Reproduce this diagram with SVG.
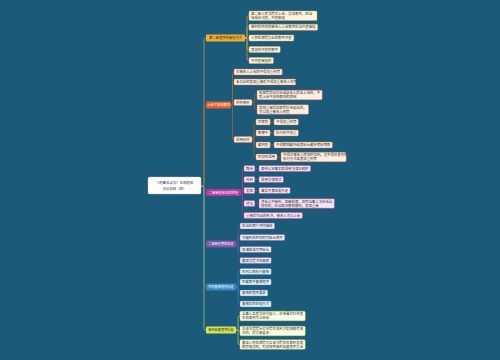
<svg xmlns="http://www.w3.org/2000/svg" width="500" height="360" viewBox="0 0 500 360">
<style>
text{font-family:"Noto Sans CJK SC","Noto Sans",sans-serif}
.t{font-size:3.4px;fill:#333}
.bt{font-size:3.3px;text-anchor:middle}
.w{fill:#fff}
.dk{fill:#3a2a10}
.c{fill:none;stroke-width:.6}
.k1{stroke:#e9b13e}.k2{stroke:#c8642c}.k3{stroke:#b5399b}.k4{stroke:#7a55a8}.k5{stroke:#3a86c8}.k6{stroke:#cfe25e}
.n1{fill:#fdf3df;stroke:#e9b13e;stroke-width:.4}
.n2{fill:#fdeee3;stroke:#e2642c;stroke-width:.4}
.n3{fill:#f9e3f3;stroke:#b5399b;stroke-width:.4}
.n4{fill:#eee8f7;stroke:#7a55a8;stroke-width:.4}
.n5{fill:#e5f1fb;stroke:#3a86c8;stroke-width:.4}
.n6{fill:#fdfbe3;stroke:#c8dc4e;stroke-width:.4}
</style>
<rect width="500" height="360" fill="#1c5a7a"/>
<g id="connectors">
<g class="c">
<path class="k1" d="M201,186H202.5Q204,186 204,184.5V39.5Q204,38 205.5,38H206"/>
<path class="k2" d="M201,186H202.5Q204,186 204,184.5V106.5Q204,105 205.5,105H206"/>
<path class="k3" d="M201,186H202.5Q204,186 204,187.5V191Q204,192.5 205.5,192.5H206"/>
<path class="k4" d="M201,186H202.5Q204,186 204,187.5V242.5Q204,244 205.5,244H206"/>
<path class="k5" d="M201,186H202.5Q204,186 204,187.5V285.5Q204,287 205.5,287H206"/>
<path class="k6" d="M201,186H202.5Q204,186 204,187.5V328.5Q204,330 205.5,330H206"/>
<path class="k1" d="M245,38H245.5Q247,38 247,36.5V17.25Q247,15.75 248.5,15.75H249"/>
<path class="k1" d="M245,38H245.5Q247,38 247,36.5V28.75Q247,27.25 248.5,27.25H249"/>
<path class="k1" d="M245,38H249"/>
<path class="k1" d="M245,38H245.5Q247,38 247,39.5V48Q247,49.5 248.5,49.5H249"/>
<path class="k1" d="M245,38H245.5Q247,38 247,39.5V59Q247,60.5 248.5,60.5H249"/>
<path class="k2" d="M231,105Q232.5,105 232.5,103.5V73.5Q232.5,72 234,72"/>
<path class="k2" d="M231,105Q232.5,105 232.5,103.5V83.5Q232.5,82 234,82"/>
<path class="k2" d="M231,105H231.5Q232.5,105 232.5,104V103.5Q232.5,102.5 233.5,102.5H234"/>
<path class="k2" d="M231,105Q232.5,105 232.5,106.5V138Q232.5,139.5 234,139.5"/>
<path class="k2" d="M252,102.5H253Q254.5,102.5 254.5,101V96.5Q254.5,95 256,95H257"/>
<path class="k2" d="M252,102.5H253Q254.5,102.5 254.5,104V108Q254.5,109.5 256,109.5H257"/>
<path class="k2" d="M252,139.5H252.5Q254,139.5 254,138V123.5Q254,122 255.5,122H256"/>
<path class="k2" d="M252,139.5H252.5Q254,139.5 254,138V134.5Q254,133 255.5,133H256"/>
<path class="k2" d="M252,139.5H252.5Q254,139.5 254,141V143.5Q254,145 255.5,145H256"/>
<path class="k2" d="M252,139.5H252.5Q254,139.5 254,141V155.5Q254,157 255.5,157H256"/>
<path class="k2" d="M270.2,122H274M270.2,133H274M270.2,145H274M277,157H281"/>
<path class="k3" d="M241,192.5Q242.5,192.5 242.5,191V170Q242.5,168.5 244,168.5"/>
<path class="k3" d="M241,192.5Q242.5,192.5 242.5,191V181Q242.5,179.5 244,179.5"/>
<path class="k3" d="M241,192.5Q242.5,192.5 242.5,191.5Q242.5,190.5 244,190.5"/>
<path class="k3" d="M241,192.5Q242.5,192.5 242.5,194V202Q242.5,203.5 244,203.5"/>
<path class="k3" d="M241,192.5Q242.5,192.5 242.5,194V214Q242.5,215.5 244,215.5"/>
<path class="k3" d="M254.8,168.5H259M254.8,179.5H259M254.8,190.5H259M254.8,203.5H259"/>
<path class="k4" d="M236,244H236.5Q238,244 238,242.5V227.5Q238,226 239.5,226H240"/>
<path class="k4" d="M236,244H236.5Q238,244 238,242.5V239Q238,237.5 239.5,237.5H240"/>
<path class="k4" d="M236,244H236.5Q238,244 238,245.5V248Q238,249.5 239.5,249.5H240"/>
<path class="k4" d="M236,244H236.5Q238,244 238,245.5V259Q238,260.5 239.5,260.5H240"/>
<path class="k5" d="M236,287H236.5Q238,287 238,285.5V273Q238,271.5 239.5,271.5H240"/>
<path class="k5" d="M236,287H236.5Q238,287 238,285.5V283.5Q238,282 239.5,282H240"/>
<path class="k5" d="M236,287H236.5Q238,287 238,288.5V291.5Q238,293 239.5,293H240"/>
<path class="k5" d="M236,287H236.5Q238,287 238,288.5V302.5Q238,304 239.5,304H240"/>
<path class="k6" d="M236,330H236.5Q238,330 238,328.5V317.5Q238,316 239.5,316H240"/>
<path class="k6" d="M236,330H237.5Q238,330 238,330.5Q238,331 238.5,331H240"/>
<path class="k6" d="M236,330H236.5Q238,330 238,331.5V343Q238,344.5 239.5,344.5H240"/>
</g>
</g>
<g id="root"><rect x="148" y="177" width="53" height="17" rx="1.5" fill="#fff" stroke="#bbb" stroke-width=".4"/><text class="t" x="174.5" y="184" text-anchor="middle">《刑事诉讼法》主观题知</text><text class="t" x="174.5" y="190" text-anchor="middle">识点总结（四）</text></g>

<g id="b1"><rect x="206" y="34.5" width="39" height="7" rx="1" fill="#f0ae35"/><text class="bt dk" x="225.5" y="39.2">第二审程序的审理方式</text></g>
<g id="c1"><rect class="n1" x="249" y="11" width="68" height="9.5" rx="1"/><text class="t" x="251" y="15">第二审人民法院对上诉、抗诉案件，应当</text><text class="t" x="251" y="18.9">组成合议庭，开庭审理</text></g>
<g id="c2"><rect class="n1" x="249" y="24.25" width="68.6" height="6" rx="1"/><text class="t" x="251" y="28.45">被判处死刑的被告人上诉案件应当开庭审理</text></g>
<g id="c3"><rect class="n1" x="249" y="35" width="44.8" height="6" rx="1"/><text class="t" x="251" y="39.2">人民检察院抗诉的案件开庭</text></g>
<g id="c4"><rect class="n1" x="249" y="46.5" width="31.2" height="6" rx="1"/><text class="t" x="251" y="50.7">其他应开庭的案件</text></g>
<g id="c5"><rect class="n1" x="249" y="57.5" width="24.4" height="6" rx="1"/><text class="t" x="251" y="61.7">不开庭审理的</text></g>

<g id="b2"><rect x="206" y="101.5" width="25" height="7" rx="1" fill="#e2602a"/><text class="bt w" x="218.5" y="106.2">上诉不加刑原则</text></g>
<g id="d1"><rect class="n2" x="234" y="69" width="48.2" height="6" rx="1"/><text class="t" x="236" y="73.2">仅被告人上诉的不得加重刑罚</text></g>
<g id="d2"><rect class="n2" x="234" y="79" width="61.8" height="6" rx="1"/><text class="t" x="236" y="83.2">未抗诉的发回重审后不得加重被告人刑罚</text></g>
<g id="d3"><rect class="n2" x="234" y="99.5" width="18" height="6" rx="1"/><text class="t" x="236" y="103.7">例外情形</text></g>
<g id="d3a"><rect class="n2" x="257" y="90.25" width="65.2" height="9.5" rx="1"/><text class="t" x="259" y="94.25">检察院提出抗诉或自诉人提出上诉的，不</text><text class="t" x="259" y="98.15">受上诉不加刑原则的限制</text></g>
<g id="d3b"><rect class="n2" x="257" y="104.75" width="51.6" height="9.5" rx="1"/><text class="t" x="259" y="108.75">发回重审后检察院补充起诉的，</text><text class="t" x="259" y="112.65">可以加重被告人刑罚</text></g>
<g id="d4"><rect class="n2" x="234" y="136.5" width="18" height="6" rx="1"/><text class="t" x="236" y="140.7">适用规则</text></g>
<g id="d4a"><rect class="n2" x="256" y="119" width="14.2" height="6" rx="1"/><text class="t" x="258" y="123.2">同案犯</text></g>
<g id="d4a1"><rect class="n2" x="274" y="119" width="24.4" height="6" rx="1"/><text class="t" x="276" y="123.2">不得加重刑罚</text></g>
<g id="d4b"><rect class="n2" x="256" y="130" width="14.2" height="6" rx="1"/><text class="t" x="258" y="134.2">数罪中</text></g>
<g id="d4b1"><rect class="n2" x="274" y="130" width="24.4" height="6" rx="1"/><text class="t" x="276" y="134.2">执行刑不加重</text></g>
<g id="d4c"><rect class="n2" x="256" y="142" width="14.2" height="6" rx="1"/><text class="t" x="258" y="146.2">缓刑犯</text></g>
<g id="d4c1"><rect class="n2" x="274" y="142" width="58.4" height="6" rx="1"/><text class="t" x="276" y="146.2">不得撤销缓刑或者延长缓刑考验期限</text></g>
<g id="d4d"><rect class="n2" x="256" y="154" width="21" height="6" rx="1"/><text class="t" x="258" y="158.2">附加刑适用</text></g>
<g id="d4d1"><rect class="n2" x="281" y="152.25" width="65.2" height="9.5" rx="1"/><text class="t" x="283" y="156.25">不得对被告人增加附加刑，也不得改变刑罚</text><text class="t" x="283" y="160.15">执行方式或者加重刑罚</text></g>

<g id="b3"><rect x="206" y="189" width="35" height="7" rx="1" fill="#b5399b"/><text class="bt w" x="223.5" y="193.7">二审审理结果的处理</text></g>
<g id="e1"><rect class="n3" x="244" y="165.5" width="10.8" height="6" rx="1"/><text class="t" x="246" y="169.7">维持</text></g>
<g id="e1a"><rect class="n3" x="259" y="165.5" width="51.6" height="6" rx="1"/><text class="t" x="261" y="169.7">原判认定事实和适用法律正确的</text></g>
<g id="e2"><rect class="n3" x="244" y="176.5" width="10.8" height="6" rx="1"/><text class="t" x="246" y="180.7">改判</text></g>
<g id="e2a"><rect class="n3" x="259" y="176.5" width="24.4" height="6" rx="1"/><text class="t" x="261" y="180.7">适用法律错误</text></g>
<g id="e3"><rect class="n3" x="244" y="187.5" width="10.8" height="6" rx="1"/><text class="t" x="246" y="191.7">发回</text></g>
<g id="e3a"><rect class="n3" x="259" y="187.5" width="31.2" height="6" rx="1"/><text class="t" x="261" y="191.7">事实不清证据不足</text></g>
<g id="e4"><rect class="n3" x="244" y="200.5" width="10.8" height="6" rx="1"/><text class="t" x="246" y="204.7">违法</text></g>
<g id="e4a"><rect class="n3" x="259" y="198.75" width="75.4" height="9.5" rx="1"/><text class="t" x="261" y="202.75">违反公开审判、回避制度，剥夺当事人法定诉讼</text><text class="t" x="261" y="206.65">权利的，应当裁定撤销原判，发回重审</text></g>
<g id="e5"><rect class="n3" x="244" y="212.5" width="58.4" height="6" rx="1"/><text class="t" x="246" y="216.7">重审后作出的判决，被告人可以上诉</text></g>

<g id="b4"><rect x="206" y="240.5" width="30" height="7" rx="1" fill="#7a55a8"/><text class="bt w" x="221" y="245.2" style="font-size:3.2px">二审审理期限规定</text></g>
<g id="f1"><rect class="n4" x="240" y="223" width="34.6" height="6" rx="1"/><text class="t" x="242" y="227.2">应当在两个月内审结</text></g>
<g id="f2"><rect class="n4" x="240" y="234.5" width="44.8" height="6" rx="1"/><text class="t" x="242" y="238.7">可能判处死刑的可延长两月</text></g>
<g id="f3"><rect class="n4" x="240" y="246.5" width="31.2" height="6" rx="1"/><text class="t" x="242" y="250.7">报请批准可再延长</text></g>
<g id="f4"><rect class="n4" x="240" y="257.5" width="31.2" height="6" rx="1"/><text class="t" x="242" y="261.7">最高法院决定审限</text></g>

<g id="b5"><rect x="206" y="283.5" width="30" height="7" rx="1" fill="#3a86c8"/><text class="bt w" x="221" y="288.2" style="font-size:3.2px">死刑复核程序规定</text></g>
<g id="g1"><rect class="n5" x="240" y="268.5" width="31.2" height="6" rx="1"/><text class="t" x="242" y="272.7">死刑立即执行复核</text></g>
<g id="g2"><rect class="n5" x="240" y="279" width="31.2" height="6" rx="1"/><text class="t" x="242" y="283.2">死缓案件复核程序</text></g>
<g id="g3"><rect class="n5" x="240" y="290" width="27.8" height="6" rx="1"/><text class="t" x="242" y="294.2">复核的程序要求</text></g>
<g id="g4"><rect class="n5" x="240" y="301" width="31.2" height="6" rx="1"/><text class="t" x="242" y="305.2">复核后的处理方式</text></g>

<g id="b6"><rect x="206" y="326.5" width="30" height="7" rx="1" fill="#d6e65a"/><text class="bt dk" x="221" y="331.2" style="font-size:3.2px">审判监督程序提起</text></g>
<g id="h1"><rect class="n6" x="240" y="311.25" width="65.2" height="9.5" rx="1"/><text class="t" x="242" y="315.25">当事人及其法定代理人、近亲属对已经发</text><text class="t" x="242" y="319.15">生效裁判可以申诉</text></g>
<g id="h2"><rect class="n6" x="240" y="326.25" width="65.2" height="9.5" rx="1"/><text class="t" x="242" y="330.25">各级法院院长对本院生效判决发现确有错</text><text class="t" x="242" y="334.15">误的，提交审委会</text></g>
<g id="h3"><rect class="n6" x="240" y="339.75" width="65.2" height="9.5" rx="1"/><text class="t" x="242" y="343.75">最高人民检察院对各级法院生效裁判发现</text><text class="t" x="242" y="347.65">确有错误的，有权按照审判监督程序抗诉</text></g>
</svg>
